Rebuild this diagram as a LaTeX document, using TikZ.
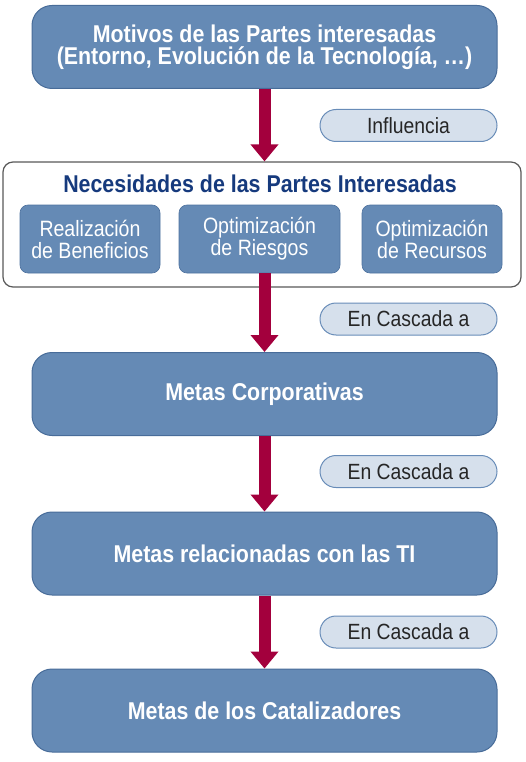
\documentclass[tikz,border=0pt]{standalone}
\usepackage{fontspec}
\setmainfont[FakeStretch=0.88]{Liberation Sans}
\usepackage{tikz}
\usetikzlibrary{arrows.meta}

\definecolor{boxblue}{RGB}{101,138,181}
\definecolor{boxedge}{RGB}{72,108,153}
\definecolor{pillfill}{RGB}{214,224,236}
\definecolor{pilledge}{RGB}{104,140,184}
\definecolor{arrowred}{RGB}{163,0,61}
\definecolor{titleblue}{RGB}{22,58,125}

\tikzset{
    goalbox/.style={draw=boxedge, line width=1pt, fill=boxblue,
        rounded corners=20pt, minimum width=465pt, minimum height=83pt,
        text=white, align=center,
        font=\fontsize{24.3}{22}\selectfont\bfseries},
    needbox/.style={draw=boxedge!80!boxblue, line width=0.6pt, fill=boxblue,
        rounded corners=8pt, minimum height=68pt,
        text=white, align=center,
        font=\fontsize{22.2}{22}\selectfont},
    pill/.style={draw=pilledge, line width=1pt, fill=pillfill,
        rounded corners=16pt, minimum width=177pt, minimum height=32pt,
        text=black!85, font=\fontsize{22}{22}\selectfont},
    flow/.style={arrowred, line width=12pt,
        -{Triangle[width=27pt,length=17pt]}}
}

\begin{document}
\begin{tikzpicture}[x=1pt, y=-1pt]
    \useasboundingbox (0,0) rectangle (526,762);

    % stakeholder drivers
    \node[goalbox] (Drivers) at (264.5,47)
    {Motivos de las Partes interesadas\\(Entorno, Evolución de la Tecnología, \dots)};

    % stakeholder needs cover
    \node[draw=black!65,
    line width=1.2pt,
    fill=white,
    rounded corners=10pt,
    minimum width=518pt,
    minimum height=125pt] (Needs) at (262,224.5){};

    \node[text=titleblue,
    font=\fontsize{24.3}{22}\selectfont\bfseries] (NeedsTitle) at (260,184)
    {Necesidades de las Partes Interesadas};

    % needs boxes
    \node[needbox, minimum width=140pt] (Benefits) at (90,239)
    {Realización\\de Beneficios};
    \node[needbox, minimum width=161pt] (Risks) at (259.5,239)
    {Optimización\\de Riesgos};
    \node[needbox, minimum width=140pt] (Resources) at (432,239)
    {Optimización\\de Recursos};

    % goals
    \node[goalbox] (Enterprise) at (264.5,394) {Metas Corporativas};
    \node[goalbox] (ITGoals) at (264.5,553.5) {Metas relacionadas con las TI};
    \node[goalbox] (Enablers) at (264.5,710.5) {Metas de los Catalizadores};

    % side labels
    \node[pill] (Influence) at (408.5,125.5) {Influencia};
    \node[pill] (Cascade1) at (408.5,319) {En Cascada a};
    \node[pill] (Cascade2) at (408.5,471.5) {En Cascada a};
    \node[pill] (Cascade3) at (408.5,632) {En Cascada a};

    % drawing arrows
    \draw[flow] (Drivers.south) -- (Drivers.south |- Needs.north);
    \draw[flow] (Enterprise.north |- Risks.south) -- (Enterprise.north);
    \draw[flow] (Enterprise.south) -- (ITGoals.north);
    \draw[flow] (ITGoals.south) -- (Enablers.north);

\end{tikzpicture}
\end{document}
